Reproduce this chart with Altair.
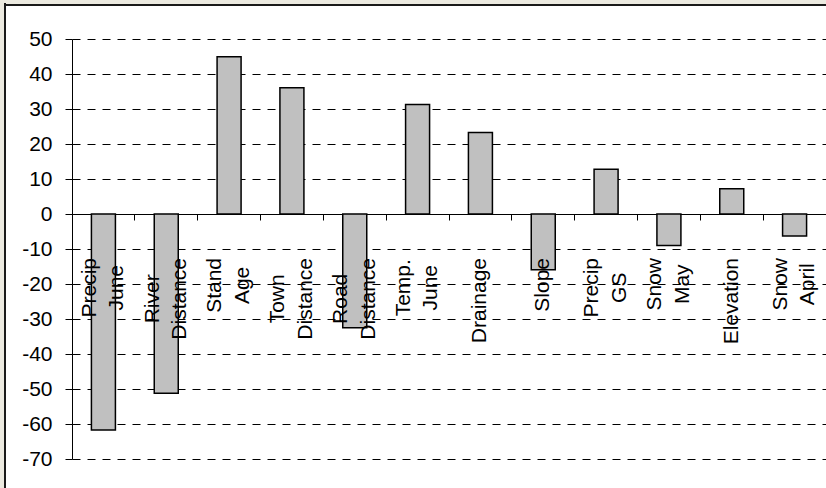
import altair as alt
import pandas as pd

# ---- data ----
categories = ["Precip\nJune", "River\nDistance", "Stand\nAge", "Town\nDistance",
              "Road\nDistance", "Temp.\nJune", "Drainage", "Slope",
              "Precip\nGS", "Snow\nMay", "Elevation", "Snow\nApril"]
values = [-61.7, -51.2, 44.9, 36.1, -32.5, 31.3, 23.3, -15.9, 12.8, -9.0, 7.2, -6.3]
y_ticks = [50, 40, 30, 20, 10, 0, -10, -20, -30, -40, -50, -60, -70]

# ---- layout constants ----
PLOT_W, PLOT_H = 754, 420
Y_MIN, Y_MAX = -70, 50
FONT = "Liberation Sans"
FS = 21
LINE_H = 27.5
PX_PER_UNIT = PLOT_H / (Y_MAX - Y_MIN)
LABEL_TOP_VALUE = -12.57  # where the upper end of the category labels sits
FRAME_BG = "#ECEAE0"

# Arial advance widths (per 1000 em) to centre the label lines on each other
W = {'P': 667, 'r': 333, 'e': 556, 'c': 500, 'i': 222, 'p': 556, 'J': 500, 'u': 556,
     'n': 556, 'R': 722, 'v': 500, 'D': 722, 's': 500, 't': 278, 'a': 556, 'S': 667,
     'd': 556, 'A': 667, 'g': 556, 'T': 611, 'o': 556, 'w': 722, 'm': 833, '.': 278,
     'G': 778, 'l': 222, 'y': 500, 'M': 833, 'E': 667}


def text_width(s):
    return sum(W.get(ch, 556) for ch in s) * FS / 1000.0


bars = pd.DataFrame({"cat": categories, "value": values})
label_rows = []
for c in categories:
    lines = c.split("\n")
    maxw = max(text_width(line) for line in lines)
    label_rows.append({"cat": c, "nlines": len(lines),
                       "ypos": LABEL_TOP_VALUE - (maxw / 2) / PX_PER_UNIT})
labels = pd.DataFrame(label_rows)
labels2 = labels[labels["nlines"] == 2]
labels1 = labels[labels["nlines"] == 1]

y_scale = alt.Scale(domain=[Y_MIN, Y_MAX], nice=False, zero=False)
x_scale = alt.Scale(paddingInner=0, paddingOuter=0)

one = pd.DataFrame({"d": [0]})
# beige frame strips and the dark border of the white chart panel
strip_left = alt.Chart(one).mark_rect(fill=FRAME_BG).encode(
    x=alt.value(-72), x2=alt.value(-68), y=alt.value(-39), y2=alt.value(460))
strip_top = alt.Chart(one).mark_rect(fill=FRAME_BG).encode(
    x=alt.value(-72), x2=alt.value(760), y=alt.value(-39), y2=alt.value(-35))
border_left = alt.Chart(one).mark_rule(color="#1a1a1a", strokeWidth=2).encode(
    x=alt.value(-67), y=alt.value(-36), y2=alt.value(460))
border_top = alt.Chart(one).mark_rule(color="#1a1a1a", strokeWidth=2).encode(
    y=alt.value(-34), x=alt.value(-68), x2=alt.value(760))

bar_layer = alt.Chart(bars).mark_bar(
    size=24, fill="#C0C0C0", stroke="black", strokeWidth=1.5
).encode(
    x=alt.X("cat:N", sort=categories, scale=x_scale,
            axis=alt.Axis(title=None, labels=False, ticks=True, tickSize=6,
                          tickColor="black", bandPosition=0, domainColor="black",
                          domainWidth=1, offset=-245, grid=False)),
    y=alt.Y("value:Q", scale=y_scale,
            axis=alt.Axis(title=None, values=y_ticks, grid=True, gridColor="black",
                          gridDash=[8, 7], gridWidth=1, tickColor="black", tickSize=7,
                          labelPadding=13, labelFont=FONT, labelFontSize=FS,
                          labelColor="black", labelOverlap=False, labelFlush=False,
                          labelExpr="'' + datum.value",
                          domainColor="black", domainWidth=1)),
    y2=alt.datum(0),
)

text2 = alt.Chart(labels2).mark_text(
    angle=270, align="center", baseline="middle", lineBreak="\n", lineHeight=LINE_H,
    dy=-LINE_H / 2, font=FONT, fontSize=FS, color="black"
).encode(
    x=alt.X("cat:N", sort=categories, scale=x_scale, axis=None),
    y=alt.Y("ypos:Q", scale=y_scale, axis=None),
    text="cat:N",
)
text1 = alt.Chart(labels1).mark_text(
    angle=270, align="center", baseline="middle",
    font=FONT, fontSize=FS, color="black"
).encode(
    x=alt.X("cat:N", sort=categories, scale=x_scale, axis=None),
    y=alt.Y("ypos:Q", scale=y_scale, axis=None),
    text="cat:N",
)

chart = alt.layer(bar_layer, text2, text1,
                  strip_left, strip_top, border_left, border_top).resolve_axis(
    x="independent", y="independent"
).properties(
    width=PLOT_W, height=PLOT_H,
    autosize=alt.AutoSizeParams(type="none"),
    padding={"left": 72, "top": 39, "right": 0, "bottom": 29},
    background="white",
).configure_view(strokeWidth=0)

chart.save("out.html", embed_options={"renderer": "svg", "actions": False})
